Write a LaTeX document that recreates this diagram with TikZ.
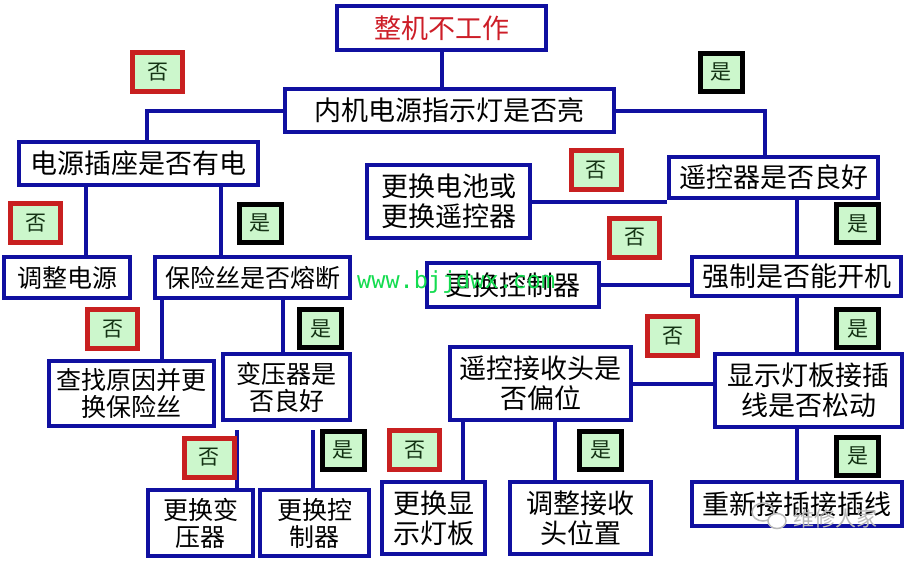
\documentclass[tikz,border=0pt]{standalone}
\usepackage{fontspec}
\setmainfont{Noto Sans CJK SC}
\newfontfamily\monofnt{DejaVu Sans Mono}
\usetikzlibrary{calc}
\definecolor{boxblue}{RGB}{16,16,160}
\definecolor{titlered}{RGB}{205,30,40}
\definecolor{labred}{RGB}{200,32,32}
\definecolor{labgreen}{RGB}{204,247,204}
\definecolor{labtext}{RGB}{20,50,20}
\definecolor{wmgreen}{RGB}{20,220,80}
\definecolor{wmgray}{RGB}{185,185,185}
\tikzset{
  box/.style={draw=boxblue, line width=4pt, fill=white, inner sep=0pt, align=center, text=black, font=\fontsize{27}{30}\selectfont},
  boxm/.style={box, font=\fontsize{25}{27}\selectfont},
  conn/.style={draw=boxblue, line width=4pt},
  nolab/.style={draw=labred, line width=5pt, fill=labgreen, inner sep=0pt, minimum width=50pt, minimum height=39pt, font=\fontsize{21}{21}\selectfont, text=labtext},
  yeslab/.style={nolab, draw=black, minimum width=42pt, minimum height=38pt},
}
\begin{document}
\begin{tikzpicture}[x=1pt,y=-1pt]
\useasboundingbox[fill=white] (0,0) rectangle (909,560);
% boxes
\node[box, minimum width=209pt, minimum height=44pt, text=titlered] (top) at (441.5,28) {整机不工作};
\node[box, minimum width=329pt, minimum height=43pt] (inner) at (449.5,110.5) {内机电源指示灯是否亮};
\node[box, minimum width=239pt, minimum height=43pt] (socket) at (138.5,163.5) {电源插座是否有电};
\node[box, minimum width=209pt, minimum height=41pt] (remote) at (773.5,177.5) {遥控器是否良好};
\node[box, minimum width=163pt, minimum height=73pt] (battery) at (448.5,201.5) {更换电池或\\更换遥控器};
\node[box, minimum width=172pt, minimum height=44pt] (ctrlmid) at (513,285) {更换控制器};
\node[box, minimum width=209pt, minimum height=39pt] (force) at (796.5,276.5) {强制是否能开机};
\node[boxm, minimum width=126pt, minimum height=41pt] (adjpow) at (67,277.5) {调整电源};
\node[boxm, minimum width=195pt, minimum height=41pt] (fuse) at (252.5,277.5) {保险丝是否熔断};
\node[boxm, minimum width=165pt, minimum height=65pt] (findfuse) at (131.5,393.5) {查找原因并更\\换保险丝};
\node[boxm, minimum width=127pt, minimum height=66pt] (trans) at (286.5,387) {变压器是\\否良好};
\node[boxm, minimum width=105pt, minimum height=66pt] (reptrans) at (200.5,523) {更换变\\压器};
\node[boxm, minimum width=109pt, minimum height=66pt] (repctrl) at (314.5,523) {更换控\\制器};
\node[box, minimum width=103pt, minimum height=72pt] (repdisp) at (433.5,518) {更换显\\示灯板};
\node[box, minimum width=181pt, minimum height=73pt] (recv) at (540.5,383.5) {遥控接收头是\\否偏位};
\node[box, minimum width=141pt, minimum height=72pt] (adjrecv) at (580.5,518) {调整接收\\头位置};
\node[box, minimum width=187pt, minimum height=73pt] (disp) at (808.5,390.5) {显示灯板接插\\线是否松动};
\node[box, minimum width=210pt, minimum height=44pt] (replug) at (797,504) {重新接插接插线};
% connectors
\draw[conn] (top.south) -- (top.south |- inner.north);
\draw[conn] (inner.west) -| ([xshift=8.5pt]socket.north);
\draw[conn] (inner.east) -| ([xshift=-8.5pt]remote.north);
\draw[conn] ([yshift=-2pt]remote.south west) -- ([yshift=-2pt]remote.south west -| battery.east);
\draw[conn] (force.north |- remote.south) -- (force.north);
\draw[conn] (ctrlmid.east) -- (ctrlmid.east -| force.west);
\draw[conn] (force.south) -- (force.south |- disp.north);
\draw[conn] (force.south |- disp.south) -- (force.south |- replug.north);
\draw[conn] (recv.east) -- (recv.east -| disp.west);
\draw[conn] ([xshift=-77.5pt]recv.south) -- ([xshift=-77.5pt]recv.south |- repdisp.north);
\draw[conn] ([xshift=14.5pt]recv.south) -- ([xshift=14.5pt]recv.south |- adjrecv.north);
\draw[conn] ([xshift=-52.5pt]socket.south) -- ([xshift=-52.5pt]socket.south |- adjpow.north);
\draw[conn] ([xshift=82.5pt]socket.south) -- ([xshift=82.5pt]socket.south |- fuse.north);
\draw[conn] ([xshift=-90.5pt]fuse.south) -- ([xshift=-90.5pt]fuse.south |- findfuse.north);
\draw[conn] ([xshift=30.5pt]fuse.south) -- ([xshift=30.5pt]fuse.south |- trans.north);
\draw[conn] ([xshift=-49.5pt,yshift=-8pt]trans.south) -- ([xshift=-49.5pt]trans.south |- reptrans.north);
\draw[conn] ([xshift=26.5pt,yshift=-8pt]trans.south) -- ([xshift=26.5pt]trans.south |- repctrl.north);
% labels
\node[nolab] (n1) at (157.5,72) {否};
\node[yeslab] (y1) at (721,72) {是};
\node[nolab] (n2) at (596,170) {否};
\node[nolab] (n3) at (35.5,223) {否};
\node[yeslab] (y2) at (260,223) {是};
\node[yeslab] (y3) at (857.5,223.5) {是};
\node[nolab] (n4) at (634.5,237.5) {否};
\node[nolab] (n5) at (112.5,329) {否};
\node[yeslab] (y4) at (320.5,328.5) {是};
\node[nolab] (n6) at (672.5,336) {否};
\node[yeslab] (y5) at (857.5,328.5) {是};
\node[nolab] (n7) at (209,457.5) {否};
\node[yeslab] (y6) at (343,450) {是};
\node[nolab] (n8) at (414.5,450) {否};
\node[yeslab] (y7) at (600.5,450) {是};
\node[yeslab] (y8) at (857.5,456) {是};
% watermarks
\node[text=wmgreen, font=\monofnt\fontsize{23.5}{24}\selectfont, anchor=base west, inner sep=0pt] (wm) at (357,288) {www.bjjdwx.com};
\draw[wmgray, line width=1.5pt] (763,512) ellipse [x radius=11pt, y radius=9pt];
\draw[wmgray, line width=1.5pt, fill=white] (777,521) ellipse [x radius=9pt, y radius=7.5pt];
\node[text=wmgray, font=\fontsize{21}{21}\selectfont, inner sep=0pt] (wm2) at (835,518) {维修人家};
\end{tikzpicture}
\end{document}
